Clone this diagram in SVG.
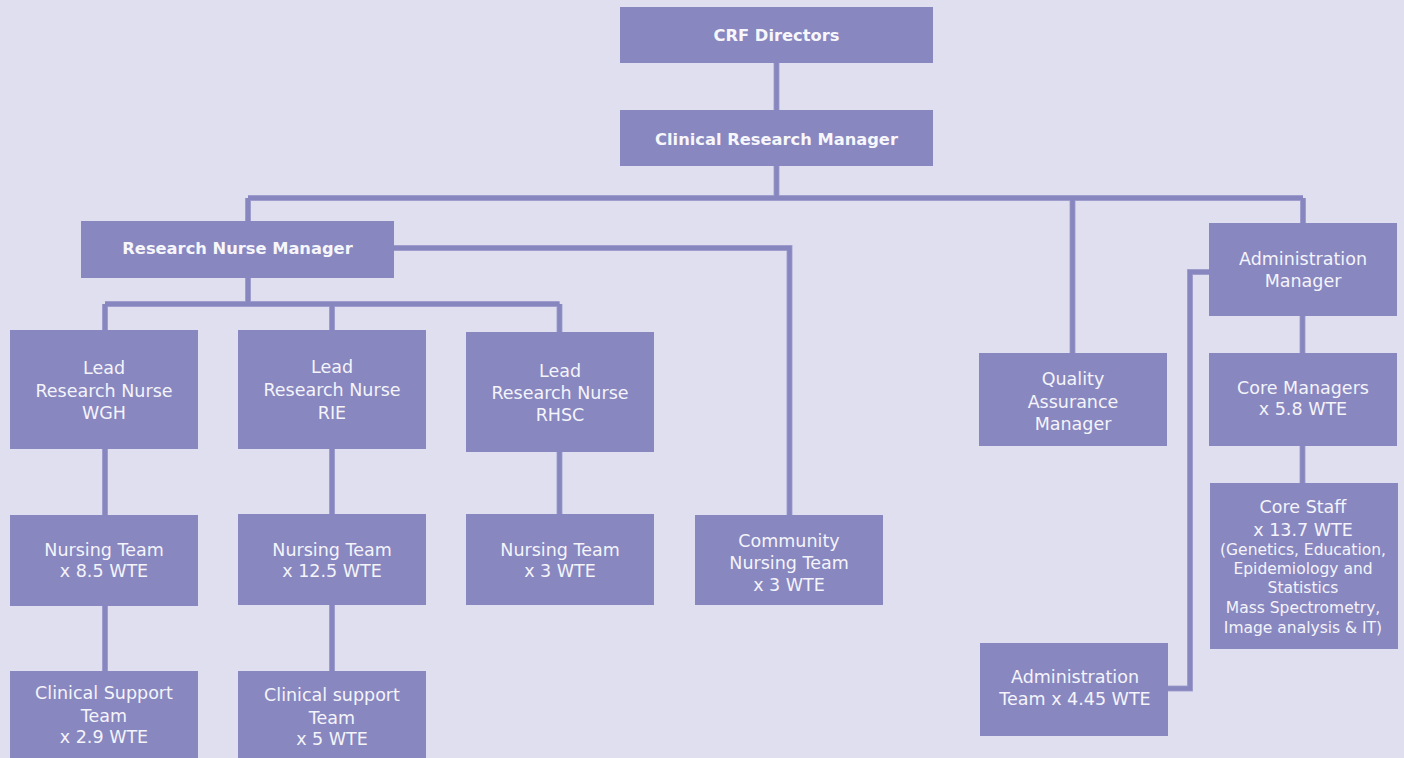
<svg xmlns="http://www.w3.org/2000/svg" width="1404" height="758" viewBox="0 0 1404 758">
<style>
.box{fill:#8887c0}
.t{font-family:"DejaVu Sans",sans-serif;font-size:17.5px;fill:#f4f4fa;text-anchor:middle}
.b{font-family:"DejaVu Sans",sans-serif;font-size:16.3px;font-weight:bold;fill:#f6f6fb;text-anchor:middle}
.s{font-size:15.5px}
.edge{fill:none;stroke:#a6a5d3;stroke-width:6}
.ln{fill:none;stroke:#8786bf;stroke-width:4.5}
</style>
<rect width="1404" height="758" fill="#e0dff0"/>
<g id="connectors">
<g class="edge">
<path d="M776.5 63V110M776.5 166V198M248 198H1303M248 198V221M1072.5 198V353M1303 198V223M248 278V304M105 304H559.5M105 304V330M332 304V330M559.5 304V332M105 449V515M105 606V671M332 449V514M332 605V671M559.5 452V514M394 248H789.5V515M1302.5 316V353M1302.5 446V483M1209 272H1190V688.5H1168"/>
</g>
<g class="ln">
<path d="M776.5 63V110M776.5 166V198M248 198H1303M248 198V221M1072.5 198V353M1303 198V223M248 278V304M105 304H559.5M105 304V330M332 304V330M559.5 304V332M105 449V515M105 606V671M332 449V514M332 605V671M559.5 452V514M394 248H789.5V515M1302.5 316V353M1302.5 446V483M1209 272H1190V688.5H1168"/>
</g>
</g>
<g id="crf-directors"><rect class="box" x="620" y="7" width="313" height="56"/><text class="b" x="776.5" y="40.5">CRF Directors</text></g>
<g id="clinical-research-manager"><rect class="box" x="620" y="110" width="313" height="56"/><text class="b" x="776.5" y="144.5">Clinical Research Manager</text></g>
<g id="research-nurse-manager"><rect class="box" x="81" y="221" width="313" height="57"/><text class="b" x="237.5" y="253.5">Research Nurse Manager</text></g>
<g id="lead-wgh"><rect class="box" x="10" y="330" width="188" height="119"/><text class="t" x="104" y="374">Lead</text><text class="t" x="104" y="396.5">Research Nurse</text><text class="t" x="104" y="419">WGH</text></g>
<g id="lead-rie"><rect class="box" x="238" y="330" width="188" height="119"/><text class="t" x="332" y="373">Lead</text><text class="t" x="332" y="396">Research Nurse</text><text class="t" x="332" y="418.5">RIE</text></g>
<g id="lead-rhsc"><rect class="box" x="466" y="332" width="188" height="120"/><text class="t" x="560" y="376.5">Lead</text><text class="t" x="560" y="399">Research Nurse</text><text class="t" x="560" y="421">RHSC</text></g>
<g id="nursing-wgh"><rect class="box" x="10" y="515" width="188" height="91"/><text class="t" x="104" y="555.5">Nursing Team</text><text class="t" x="104" y="577">x 8.5 WTE</text></g>
<g id="nursing-rie"><rect class="box" x="238" y="514" width="188" height="91"/><text class="t" x="332" y="555.5">Nursing Team</text><text class="t" x="332" y="577">x 12.5 WTE</text></g>
<g id="nursing-rhsc"><rect class="box" x="466" y="514" width="188" height="91"/><text class="t" x="560" y="555.5">Nursing Team</text><text class="t" x="560" y="577">x 3 WTE</text></g>
<g id="community-nursing"><rect class="box" x="695" y="515" width="188" height="90"/><text class="t" x="789" y="546.5">Community</text><text class="t" x="789" y="568.5">Nursing Team</text><text class="t" x="789" y="590.5">x 3 WTE</text></g>
<g id="clinical-support-wgh"><rect class="box" x="10" y="671" width="188" height="90"/><text class="t" x="104" y="698.5">Clinical Support</text><text class="t" x="104" y="721.5">Team</text><text class="t" x="104" y="743">x 2.9 WTE</text></g>
<g id="clinical-support-rie"><rect class="box" x="238" y="671" width="188" height="90"/><text class="t" x="332" y="700.5">Clinical support</text><text class="t" x="332" y="723.5">Team</text><text class="t" x="332" y="745">x 5 WTE</text></g>
<g id="quality-assurance"><rect class="box" x="979" y="353" width="188" height="93"/><text class="t" x="1073" y="385">Quality</text><text class="t" x="1073" y="408">Assurance</text><text class="t" x="1073" y="430">Manager</text></g>
<g id="administration-manager"><rect class="box" x="1209" y="223" width="188" height="93"/><text class="t" x="1303" y="264.5">Administration</text><text class="t" x="1303" y="286.5">Manager</text></g>
<g id="core-managers"><rect class="box" x="1209" y="353" width="188" height="93"/><text class="t" x="1303" y="393.5">Core Managers</text><text class="t" x="1303" y="415">x 5.8 WTE</text></g>
<g id="core-staff"><rect class="box" x="1210" y="483" width="188" height="166"/><text class="t" x="1303" y="513">Core Staff</text><text class="t" x="1303" y="536">x 13.7 WTE</text><text class="t s" x="1303" y="554.5">(Genetics, Education,</text><text class="t s" x="1303" y="574">Epidemiology and</text><text class="t s" x="1303" y="593">Statistics</text><text class="t s" x="1303" y="613">Mass Spectrometry,</text><text class="t s" x="1303" y="632.5">Image analysis &amp; IT)</text></g>
<g id="administration-team"><rect class="box" x="980" y="643" width="188" height="93"/><text class="t" x="1075" y="683">Administration</text><text class="t" x="1075" y="705">Team x 4.45 WTE</text></g>
</svg>
